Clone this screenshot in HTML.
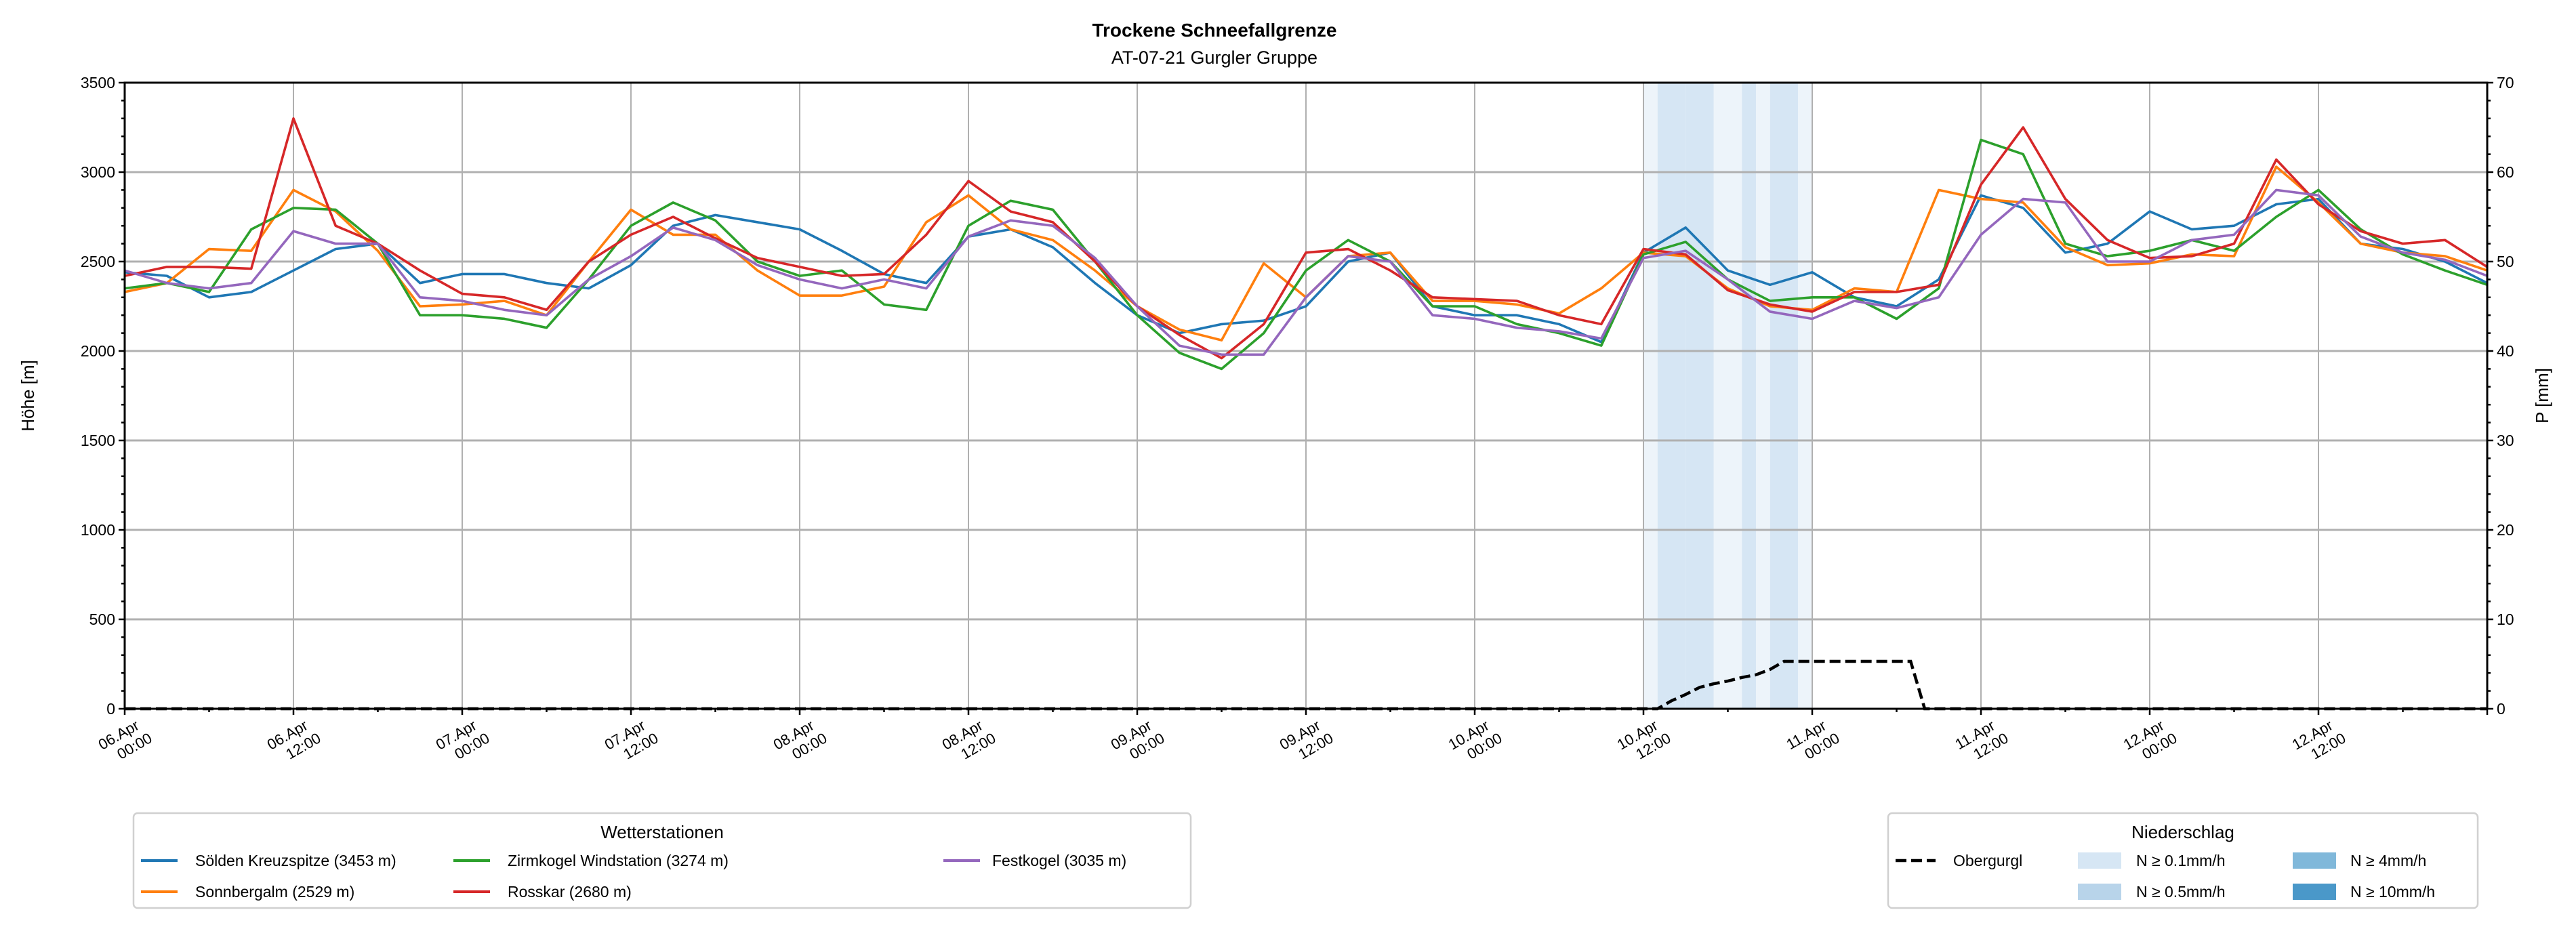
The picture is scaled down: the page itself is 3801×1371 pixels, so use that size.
<!DOCTYPE html>
<html><head><meta charset="utf-8">
<style>
html,body{margin:0;padding:0;background:#fff;}
svg{display:block;font-family:"Liberation Sans","DejaVu Sans",sans-serif;}
</style></head>
<body>
<svg id="chart" width="3801" height="1371" viewBox="0 0 3801 1371" xmlns="http://www.w3.org/2000/svg">
<text x="1792" y="54" text-anchor="middle" font-size="28" font-weight="bold">Trockene Schneefallgrenze</text>
<text x="1792" y="94" text-anchor="middle" font-size="27">AT-07-21 Gurgler Gruppe</text>
<g id="shade"></g>
<g id="grid"></g>
<g id="series"></g>
<g id="axes"></g>
<text transform="translate(50,584) rotate(-90)" text-anchor="middle" font-size="26">Höhe [m]</text>
<text transform="translate(3760,584) rotate(-90)" text-anchor="middle" font-size="26">P [mm]</text>

<g>
<rect x="197" y="1200" width="1560" height="140" rx="6" fill="#fff" stroke="#d0d0d0" stroke-width="2.5"/>
<text x="977" y="1237" text-anchor="middle" font-size="26">Wetterstationen</text>
<g><line x1="208" y1="1270" x2="262" y2="1270" stroke="#1f77b4" stroke-width="4"/><text x="288" y="1278" font-size="23">Sölden Kreuzspitze (3453 m)</text></g>
<g><line x1="208" y1="1316" x2="262" y2="1316" stroke="#ff7f0e" stroke-width="4"/><text x="288" y="1324" font-size="23">Sonnbergalm (2529 m)</text></g>
<g><line x1="669" y1="1270" x2="723" y2="1270" stroke="#2ca02c" stroke-width="4"/><text x="749" y="1278" font-size="23">Zirmkogel Windstation (3274 m)</text></g>
<g><line x1="669" y1="1316" x2="723" y2="1316" stroke="#d62728" stroke-width="4"/><text x="749" y="1324" font-size="23">Rosskar (2680 m)</text></g>
<g><line x1="1392" y1="1270" x2="1446" y2="1270" stroke="#9467bd" stroke-width="4"/><text x="1464" y="1278" font-size="23">Festkogel (3035 m)</text></g>
</g>

<g>
<rect x="2786" y="1200" width="870" height="140" rx="6" fill="#fff" stroke="#d0d0d0" stroke-width="2.5"/>
<text x="3221" y="1237" text-anchor="middle" font-size="26">Niederschlag</text>
<g><line x1="2797" y1="1270" x2="2856" y2="1270" stroke="#000" stroke-width="4.5" stroke-dasharray="16,7"/><text x="2882" y="1278" font-size="23">Obergurgl</text></g>
<g><rect x="3066" y="1258" width="64" height="24" fill="#d6e6f4"/><text x="3152" y="1278" font-size="23">N ≥ 0.1mm/h</text></g>
<g><rect x="3066" y="1304" width="64" height="24" fill="#b8d4ea"/><text x="3152" y="1324" font-size="23">N ≥ 0.5mm/h</text></g>
<g><rect x="3383" y="1258" width="64" height="24" fill="#80b8da"/><text x="3468" y="1278" font-size="23">N ≥ 4mm/h</text></g>
<g><rect x="3383" y="1304" width="64" height="24" fill="#4a98c9"/><text x="3468" y="1324" font-size="23">N ≥ 10mm/h</text></g>
</g>
</svg>
<script>
// hours since 06.Apr 00:00, every 3 h
const hours = [];
for (let i = 0; i <= 56; i++) hours.push(i * 3);
const soelden = [2440,2420,2300,2330,2450,2570,2600,2380,2430,2430,2380,2350,2480,2700,2760,2720,2680,2560,2430,2380,2640,2680,2580,2380,2200,2100,2150,2170,2250,2500,2550,2250,2200,2200,2150,2050,2550,2690,2450,2370,2440,2300,2250,2400,2870,2800,2550,2600,2780,2680,2700,2820,2850,2600,2570,2500,2380];
const sonnbergalm = [2330,2380,2570,2560,2900,2780,2560,2250,2260,2280,2200,2500,2790,2650,2650,2450,2310,2310,2360,2720,2870,2680,2620,2450,2250,2120,2060,2490,2300,2530,2550,2280,2280,2260,2210,2350,2550,2530,2350,2250,2230,2350,2330,2900,2850,2830,2580,2480,2490,2540,2530,3030,2830,2600,2550,2530,2450];
const zirmkogel = [2350,2380,2330,2680,2800,2790,2600,2200,2200,2180,2130,2400,2700,2830,2730,2500,2420,2450,2260,2230,2700,2840,2790,2500,2200,1990,1900,2100,2450,2620,2500,2250,2250,2150,2100,2030,2540,2610,2400,2280,2300,2300,2180,2350,3180,3100,2600,2530,2560,2620,2560,2750,2900,2680,2540,2450,2370];
const rosskar = [2420,2470,2470,2460,3300,2700,2600,2450,2320,2300,2230,2500,2650,2750,2630,2520,2470,2420,2430,2650,2950,2780,2720,2500,2250,2090,1960,2150,2550,2570,2450,2300,2290,2280,2200,2150,2570,2540,2340,2260,2220,2330,2330,2370,2930,3250,2850,2620,2520,2530,2600,3070,2820,2670,2600,2620,2470];
const festkogel = [2450,2380,2350,2380,2670,2600,2600,2300,2280,2230,2200,2400,2530,2690,2620,2480,2400,2350,2400,2350,2640,2730,2700,2520,2250,2030,1980,1980,2300,2530,2500,2200,2180,2130,2110,2070,2520,2560,2400,2220,2180,2280,2240,2300,2650,2850,2830,2500,2500,2620,2650,2900,2870,2640,2550,2510,2420];
// precipitation (hourly), 10.Apr 12:00 onwards: class 1 = N>=0.1, 2 = N>=0.5
const precipStart = 108;
const precipClass = [1,2,2,2,2,1,1,2,1,2,2,1];
// Obergurgl cumulative precip [mm] (hourly points)
const obHours = [0,108,109,110,111,112,113,114,115,116,117,118,119,120,121,122,123,124,125,126,127,128,129,130,168];
const obVals  = [0,0,0,0.9,1.6,2.4,2.8,3.1,3.5,3.8,4.4,5.3,5.3,5.3,5.3,5.3,5.3,5.3,5.3,5.3,5.3,0,0,0,0];
const xTicks = ["06.Apr|00:00","06.Apr|12:00","07.Apr|00:00","07.Apr|12:00","08.Apr|00:00","08.Apr|12:00","09.Apr|00:00","09.Apr|12:00","10.Apr|00:00","10.Apr|12:00","11.Apr|00:00","11.Apr|12:00","12.Apr|00:00","12.Apr|12:00"];
const yTicks = [0,500,1000,1500,2000,2500,3000,3500];
const y2Ticks = [0,10,20,30,40,50,60,70];

const L=184,R=3670,T=122,B=1046;
const X=h=>L+(R-L)*h/168;
const Y=v=>B-(B-T)*v/3500;
const Y2=v=>B-(B-T)*v/70;
const NS="http://www.w3.org/2000/svg";
function mk(tag,attrs,parent){const e=document.createElementNS(NS,tag);for(const k in attrs)e.setAttribute(k,attrs[k]);parent.appendChild(e);return e;}
const shade=document.getElementById('shade'),grid=document.getElementById('grid'),ser=document.getElementById('series'),axes=document.getElementById('axes');

precipClass.forEach((c,i)=>{
  const r=mk('rect',{x:X(precipStart+i),y:T,width:X(precipStart+i+1)-X(precipStart+i),height:B-T,fill:c===2?'#d6e6f4':'#edf4fa'},shade);
  
  
});
xTicks.forEach((t,i)=>{
  const x=X(i*12);
  const g=mk('line',{x1:x,y1:T,x2:x,y2:B,stroke:'#b0b0b0','stroke-width':2},grid);
  
  
});
yTicks.forEach(v=>{
  const g=mk('line',{x1:L,y1:Y(v),x2:R,y2:Y(v),stroke:'#b0b0b0','stroke-width':3},grid);
  
  
});
const series=[[soelden,'#1f77b4','soelden-line'],[sonnbergalm,'#ff7f0e','sonnbergalm-line'],[zirmkogel,'#2ca02c','zirmkogel-line'],[rosskar,'#d62728','rosskar-line'],[festkogel,'#9467bd','festkogel-line']];
series.forEach(([d,c,n])=>{
  const p=mk('polyline',{points:d.map((v,i)=>X(hours[i])+','+Y(v)).join(' '),fill:'none',stroke:c,'stroke-width':3.6,'stroke-linejoin':'round'},ser);
  
  
});
const ob=mk('polyline',{points:obHours.map((h,i)=>X(h)+','+Y2(obVals[i])).join(' '),fill:'none',stroke:'#000','stroke-width':4.5,'stroke-dasharray':'16,7'},ser);



const frame=mk('rect',{x:L,y:T,width:R-L,height:B-T,fill:'none',stroke:'#000','stroke-width':3},axes);


for(let v=0;v<=3500;v+=100){const big=v%500===0;mk('line',{x1:L,y1:Y(v),x2:L-(big?9:5),y2:Y(v),stroke:'#000','stroke-width':2.5},axes);}
for(let v=0;v<=70;v+=2){const big=v%10===0;mk('line',{x1:R,y1:Y2(v),x2:R+(big?9:5),y2:Y2(v),stroke:'#000','stroke-width':2.5},axes);}
for(let h=0;h<=168;h+=6){const big=h%12===0;mk('line',{x1:X(h),y1:B,x2:X(h),y2:B+(big?9:5),stroke:'#000','stroke-width':2.5},axes);}
yTicks.forEach(v=>{
  const t=mk('text',{x:L-14,y:Y(v)+8,'text-anchor':'end','font-size':23},axes);t.textContent=v;
  
  
});
y2Ticks.forEach(v=>{
  const t=mk('text',{x:R+14,y:Y2(v)+8,'font-size':23},axes);t.textContent=v;
  
  
});
xTicks.forEach((s,i)=>{
  const [a,b]=s.split('|');const x=X(i*12);
  const t=mk('text',{transform:`translate(${x},${B+42}) rotate(-30)`,'text-anchor':'middle','font-size':22},axes);
  
  
  const t1=mk('tspan',{x:-6,y:0},t);t1.textContent=a;
  const t2=mk('tspan',{x:6,y:26},t);t2.textContent=b;
});
</script>
</body></html>
